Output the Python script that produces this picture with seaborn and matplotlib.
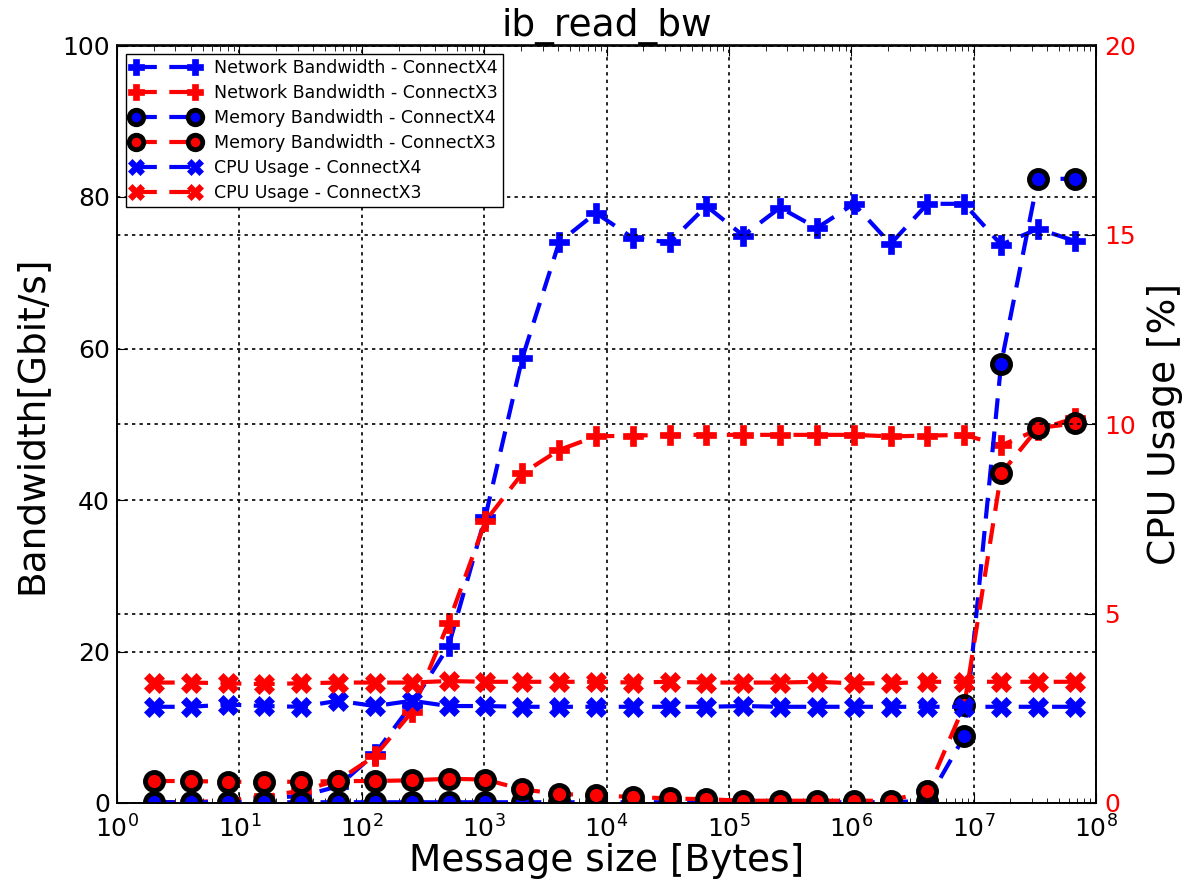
import matplotlib
matplotlib.use("Agg")
import matplotlib.pyplot as plt
import seaborn as sns
from matplotlib.ticker import LogLocator, FixedLocator, LogFormatterSciNotation, NullFormatter

# ---- data ----
msg_sizes = [2, 4, 8, 16, 32, 64, 128, 256, 512, 1024, 2048, 4096, 8192, 16384,
             32768, 65536, 131072, 262144, 524288, 1048576, 2097152, 4194304,
             8388608, 16777216, 33554432, 67108864]

net_cx4 = [0.1, 0.1, 0.2, 0.7, 0.9, 2.2, 6.5, 13.0, 20.7, 37.8, 58.7, 74.0, 77.9,
           74.6, 74.0, 78.8, 74.9, 78.6, 75.9, 79.1, 73.8, 79.1, 79.1, 73.7, 75.8, 74.2]
net_cx3 = [0.1, 0.1, 0.3, 0.9, 1.6, 3.0, 6.2, 12.0, 23.8, 37.2, 43.5, 46.6, 48.4,
           48.5, 48.6, 48.6, 48.6, 48.6, 48.6, 48.6, 48.4, 48.5, 48.6, 47.2, 49.3, 50.8]
mem_cx4 = [0.1, 0.1, 0.1, 0.1, 0.1, 0.1, 0.1, 0.1, 0.1, 0.1, 0.1, 0.1, 0.1,
           0.1, 0.1, 0.1, 0.1, 0.1, 0.1, 0.1, 0.1, 0.3, 8.8, 58.0, 82.4, 82.4]
mem_cx3 = [2.9, 2.9, 2.8, 2.8, 2.8, 2.9, 2.9, 3.0, 3.2, 3.1, 1.8, 1.2, 1.0,
           0.8, 0.6, 0.5, 0.3, 0.3, 0.3, 0.3, 0.3, 1.6, 12.9, 43.5, 49.5, 50.1]
cpu_cx4 = [2.54, 2.54, 2.6, 2.56, 2.54, 2.7, 2.56, 2.7, 2.56, 2.56, 2.54, 2.54, 2.54,
           2.54, 2.54, 2.54, 2.56, 2.54, 2.54, 2.54, 2.54, 2.54, 2.54, 2.54, 2.54, 2.54]
cpu_cx3 = [3.18, 3.18, 3.16, 3.14, 3.16, 3.18, 3.18, 3.18, 3.22, 3.2, 3.2, 3.2, 3.2,
           3.18, 3.2, 3.18, 3.18, 3.18, 3.2, 3.16, 3.16, 3.2, 3.2, 3.2, 3.2, 3.2]

labels = ["Network Bandwidth - ConnectX4", "Network Bandwidth - ConnectX3",
          "Memory Bandwidth - ConnectX4", "Memory Bandwidth - ConnectX3",
          "CPU Usage - ConnectX4", "CPU Usage - ConnectX3"]
x_ticks = [1, 10, 100, 1000, 10000, 100000, 1000000, 10000000, 100000000]
left_ticks = [0, 20, 40, 60, 80, 100]
right_ticks = [0, 5, 10, 15, 20]

BLUE = "#0000ff"
RED = "#ff0000"

plt.rcParams.update({
    "font.family": ["DejaVu Sans"],
    "xtick.direction": "in",
    "ytick.direction": "in",
    "xtick.major.size": 7,
    "xtick.minor.size": 3.5,
    "ytick.major.size": 7,
    "ytick.minor.size": 3.5,
    "xtick.top": True,
    "axes.linewidth": 1.2,
})

fig = plt.figure(figsize=(11.86, 8.89), dpi=100)
ax = fig.add_axes([117 / 1186, 1 - 803 / 889, (1096 - 117) / 1186, (803 - 45.5) / 889])
ax2 = ax.twinx()

dash = (0, (5, 3))
common = dict(linestyle=dash, linewidth=3)

sns.lineplot(x=msg_sizes, y=net_cx4, ax=ax, color=BLUE, marker="P", markersize=15,
             markeredgecolor=BLUE, markeredgewidth=0.5, label=labels[0], **common)
sns.lineplot(x=msg_sizes, y=net_cx3, ax=ax, color=RED, marker="P", markersize=15,
             markeredgecolor=RED, markeredgewidth=0.5, label=labels[1], **common)
sns.lineplot(x=msg_sizes, y=mem_cx4, ax=ax, color=BLUE, marker="o", markersize=13,
             markerfacecolor=BLUE, markeredgecolor="k", markeredgewidth=3.5,
             label=labels[2], **common)
sns.lineplot(x=msg_sizes, y=mem_cx3, ax=ax, color=RED, marker="o", markersize=13,
             markerfacecolor=RED, markeredgecolor="k", markeredgewidth=3.5,
             label=labels[3], **common)
sns.lineplot(x=msg_sizes, y=cpu_cx4, ax=ax2, color=BLUE, marker="X", markersize=14,
             markeredgecolor=BLUE, markeredgewidth=0.5, label=labels[4], **common)
sns.lineplot(x=msg_sizes, y=cpu_cx3, ax=ax2, color=RED, marker="X", markersize=14,
             markeredgecolor=RED, markeredgewidth=0.5, label=labels[5], **common)

ax.set_xscale("log")
ax.set_xlim(x_ticks[0], x_ticks[-1])
ax.set_ylim(left_ticks[0], left_ticks[-1])
ax2.set_ylim(right_ticks[0], right_ticks[-1])
ax.set_yticks(left_ticks)
ax2.set_yticks(right_ticks)
ax.xaxis.set_major_locator(FixedLocator(x_ticks))
ax.xaxis.set_major_formatter(LogFormatterSciNotation(base=10))
ax.xaxis.set_minor_locator(LogLocator(base=10, subs=range(2, 10), numticks=100))
ax.xaxis.set_minor_formatter(NullFormatter())

ax.tick_params(axis="x", labelsize=18, pad=9)
ax.tick_params(axis="y", labelsize=18, pad=5, right=False)
ax2.tick_params(axis="y", labelsize=18, labelcolor=RED, left=False, pad=6)

grid_kw = dict(color="k", linestyle=(0, (2, 2.5)), linewidth=1.2)
ax.grid(True, which="major", **grid_kw)
ax2.yaxis.grid(True, **grid_kw)
ax2.xaxis.grid(False)

ax.set_xlabel("Message size [Bytes]", fontsize=27, labelpad=0)
ax.set_ylabel("Bandwidth[Gbit/s]", fontsize=27, labelpad=9)
ax2.set_ylabel("CPU Usage [%]", fontsize=27, labelpad=8)
ax.set_title("ib_read_bw", fontsize=27, pad=3)

h1, l1 = ax.get_legend_handles_labels()
h2, l2 = ax2.get_legend_handles_labels()
if ax.get_legend() is not None:
    ax.get_legend().remove()
if ax2.get_legend() is not None:
    ax2.get_legend().remove()
leg = ax2.legend(h1 + h2, l1 + l2, loc="upper left", numpoints=2, handlelength=4.0,
                 fontsize=12.5, fancybox=False, framealpha=1, edgecolor="k",
                 borderaxespad=0.5, labelspacing=0.4, borderpad=0.3,
                 markerscale=0.8, handletextpad=0.8)
leg.get_frame().set_linewidth(1.0)

fig.savefig("out.png", dpi=100)
